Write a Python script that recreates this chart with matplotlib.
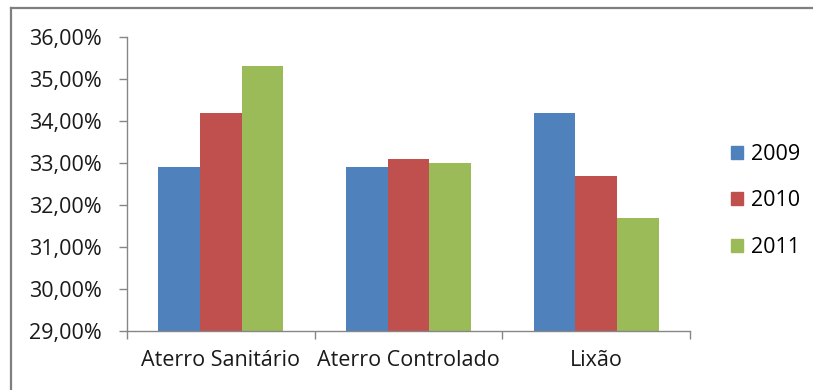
import matplotlib.pyplot as plt
import matplotlib.patches as mpatches
from matplotlib.lines import Line2D
from matplotlib.ticker import FuncFormatter, MultipleLocator, FixedLocator
import numpy as np

plt.rcParams['font.family'] = ['Open Sans', 'DejaVu Sans']

# Dados
categorias = ['Aterro Sanitário', 'Aterro Controlado', 'Lixão']
anos = ['2009', '2010', '2011']
valores_2009 = [32.9, 32.9, 34.2]
valores_2010 = [34.2, 33.1, 32.7]
valores_2011 = [35.3, 33.0, 31.7]
series = [valores_2009, valores_2010, valores_2011]
cores = ['#4F81BD', '#C0504D', '#9BBB59']

W, H = 813, 390
fig = plt.figure(figsize=(W / 100, H / 100), dpi=100)
ax = fig.add_axes([127 / W, 1 - 331 / H, (690 - 127) / W, (331 - 37) / H])

x = np.arange(len(categorias))
largura = 1 / 4.5
for i, (vals, cor) in enumerate(zip(series, cores)):
    ax.bar(x + (i - 1) * largura, vals, largura, color=cor, label=anos[i], zorder=2)

ax.set_xlim(-0.5, len(categorias) - 0.5)
ax.set_ylim(29, 36)
ax.yaxis.set_major_locator(MultipleLocator(1))
ax.yaxis.set_major_formatter(FuncFormatter(lambda v, p: f'{v:.2f}%'.replace('.', ',')))

# rótulos das categorias no centro, marcas nas divisões
ax.set_xticks(x)
ax.set_xticklabels(categorias)
ax.xaxis.set_minor_locator(FixedLocator(np.arange(-0.5, len(categorias), 1.0)))
ax.tick_params(axis='x', which='major', length=0, pad=14, labelsize=15.5, labelcolor='#1a1a1a')
ax.tick_params(axis='x', which='minor', length=6, width=1, color='#868686', direction='out')
ax.tick_params(axis='y', length=6, width=1, color='#868686', direction='out', pad=12,
               labelsize=15.5, labelcolor='#1a1a1a')

for lado in ['top', 'right']:
    ax.spines[lado].set_visible(False)
for lado in ['left', 'bottom']:
    ax.spines[lado].set_color('#868686')
    ax.spines[lado].set_linewidth(1)

# legenda
handles = [mpatches.Patch(color=c, label=a) for c, a in zip(cores, anos)]
fig.legend(handles=handles, loc='center left', bbox_to_anchor=(712 / W, 1 - 201 / H),
           frameon=False, fontsize=15.5, handlelength=0.56, handleheight=0.56,
           handletextpad=0.37, labelspacing=1.17)

# moldura do gráfico
fig.add_artist(Line2D([11 / W, 11 / W], [0, 1 - 8 / H], color='#7f7f7f', lw=1.6))
fig.add_artist(Line2D([11 / W, 1], [1 - 8 / H, 1 - 8 / H], color='#7f7f7f', lw=1.6))

fig.savefig('out.png', dpi=100)
plt.close(fig)
